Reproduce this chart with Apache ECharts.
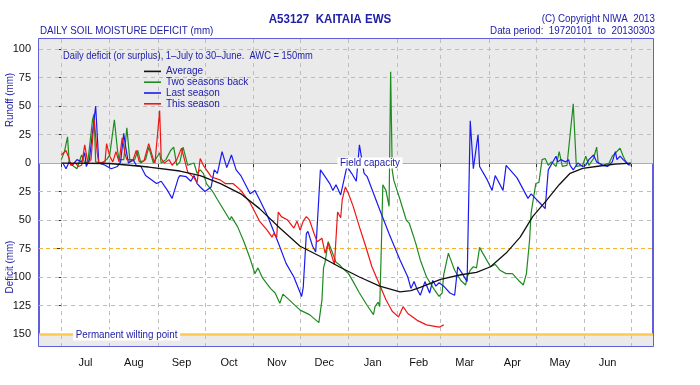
<!DOCTYPE html>
<html><head><meta charset="utf-8">
<script src="https://cdn.jsdelivr.net/npm/echarts@6/dist/echarts.min.js"></script>
<style>html,body{margin:0;padding:0;background:#fff}#c{width:700px;height:385px}</style>
</head><body><div id="c"></div>
<script>
// Month axis (day of season, starting 1 July)
const monthNames = ['Jul','Aug','Sep','Oct','Nov','Dec','Jan','Feb','Mar','Apr','May','Jun'];
const monthStarts = [0,31,62,92,123,153,184,215,243,274,304,335,365];
// Y ticks: negative = runoff (surplus), positive = deficit
const yTickValues = [-100,-75,-50,-25,0,25,50,75,100,125,150];
const gridValues = [-100,-75,-50,-25,25,50,100,125];
const fieldCapacity = 0;
const halfAWC = 75;
const wiltingPoint = 150;

// [day of season, deficit mm] (negative = surplus/runoff)
const average = [[0,0],[31,0.4],[56,3.5],[76,7],[89,11],[102,18],[115,27],[127,40],[140,57],[153,73],[166,82],[178,91],[191,100],[204,108],[217,113],[224,112],[230,109],[243,102],[256,98],[266,96],[275,91],[285,79],[294,65],[302,47],[311,32.5],[319,19],[326,9],[334,4.6],[345,2.6],[355,1],[365,0]];

const twoSeasonsBack = [[0,-3],[2,-10],[4,-23],[5,-1],[7,2],[10,5],[13,-7],[15,0],[17,-1],[20,-38],[21,-43],[22,-1],[26,0],[29,-3],[31,-7],[34,-38],[36,-11],[37,-3],[40,-3],[42,-31],[44,-1],[47,-3],[49,-11],[51,0],[54,-3],[56,-14],[59,0],[63,-9],[64,0],[67,-3],[70,-11],[72,-14],[74,2],[76,-1],[78,-14],[81,2],[85,0],[87,9],[89,6],[91,9],[93,18],[97,25],[100,32],[104,41],[108,50],[109,47],[113,56],[117,69],[121,84],[124,97],[126,92],[129,101],[134,110],[137,114],[140,123],[142,115],[146,120],[153,129],[159,133],[165,140],[167,120],[168,92],[169,87],[171,69],[173,76],[176,87],[178,89],[180,92],[184,97],[187,104],[191,114],[196,125],[200,133],[201,126],[203,122],[204,126],[205,76],[206,19],[208,24],[210,38],[211,-80],[212,6],[213,15],[217,32],[221,50],[223,53],[227,70],[230,85],[234,100],[239,111],[242,117],[244,114],[245,98],[248,79],[249,83],[252,94],[256,103],[259,107],[260,100],[262,94],[264,91],[266,92],[268,74],[270,79],[275,91],[278,89],[281,94],[285,97],[289,97],[293,103],[296,107],[298,97],[300,68],[301,44],[304,18],[306,17],[308,-3],[310,-4],[312,2],[314,-1],[317,3],[319,-10],[321,3],[324,2],[328,-52],[330,3],[334,2],[336,-6],[338,2],[341,-4],[343,-14],[344,0],[347,2],[351,0],[353,-6],[358,-13],[360,-6],[361,-3],[363,1],[365,2]];

const lastSeason = [[1,0],[3,5],[5,-1],[7,2],[10,-3],[13,-1],[15,-9],[16,3],[18,-3],[20,-27],[22,-50],[23,-25],[24,0],[28,2],[32,5],[36,3],[38,-1],[40,-26],[41,-16],[43,0],[46,-3],[48,2],[51,3],[54,11],[61,18],[64,16],[68,24],[71,31],[73,22],[75,13],[76,11],[80,12],[83,16],[85,11],[87,18],[89,21],[92,25],[96,21],[98,6],[100,9],[103,-10],[106,4],[109,-7],[112,6],[115,11],[121,27],[124,24],[127,32],[132,46],[139,70],[144,88],[149,100],[154,117],[155,109],[157,62],[158,60],[161,73],[163,78],[166,6],[169,12],[172,18],[174,24],[176,19],[179,28],[183,3],[186,9],[189,16],[191,-16],[194,9],[196,12],[204,41],[210,62],[217,85],[222,100],[224,110],[226,104],[228,111],[230,116],[233,104],[236,114],[238,103],[240,108],[242,105],[245,108],[249,114],[252,116],[254,91],[256,95],[260,104],[262,-37],[264,5],[267,-25],[268,3],[273,15],[276,24],[278,11],[283,24],[285,2],[292,13],[299,31],[301,27],[308,37],[310,40],[312,6],[313,5],[317,-6],[318,-1],[320,-3],[323,-1],[325,-3],[326,2],[328,6],[331,0],[334,3],[336,2],[338,-3],[341,-7],[343,-1],[347,2],[350,3],[353,-1],[355,-10],[356,-3],[358,-6],[360,-3],[361,-4],[363,1],[364,2]];

const thisSeason = [[0,-7],[3,-11],[5,-4],[6,2],[9,0],[11,3],[13,2],[15,-16],[17,0],[19,-3],[21,-38],[23,-9],[24,0],[28,-1],[29,-17],[31,-6],[33,-1],[35,-10],[37,-1],[39,-22],[41,-7],[42,-3],[46,-3],[48,-11],[50,-1],[53,-2],[56,-17],[59,-3],[60,0],[63,-46],[64,-4],[66,0],[69,-3],[71,2],[74,-3],[77,-13],[81,8],[85,13],[87,17],[89,-4],[91,2],[96,12],[102,15],[105,18],[110,18],[115,24],[121,35],[124,43],[127,51],[132,59],[135,65],[136,62],[138,65],[139,43],[141,47],[145,50],[149,57],[151,51],[153,59],[155,51],[157,47],[159,50],[162,62],[164,69],[167,66],[169,79],[171,70],[172,76],[175,89],[177,43],[179,48],[180,32],[182,21],[184,27],[187,38],[191,56],[195,73],[199,91],[204,107],[208,120],[212,130],[216,135],[219,126],[222,132],[228,138],[234,142],[242,144],[243,144],[245,142]];

const monthMids = monthNames.map((m, i) => (monthStarts[i] + monthStarts[i + 1]) / 2);
const txtBlue = '#2020a8';
const font = "'Liberation Sans',Arial,sans-serif";
const gridGray = '#bdbdbd';
const narrow = 0.89;

const chart = echarts.init(document.getElementById('c'), null, {renderer: 'canvas'});

const markLines = [];
monthStarts.forEach(d => markLines.push({xAxis: d, lineStyle: {color: gridGray, type: [4, 4], width: 1}}));
gridValues.forEach(v => markLines.push({yAxis: v, lineStyle: {color: gridGray, type: [4, 4], width: 1}}));
markLines.push({yAxis: halfAWC, lineStyle: {color: '#f5b335', type: [4, 3], width: 1}});
markLines.push({yAxis: fieldCapacity, lineStyle: {color: '#3fe6a6', type: 'solid', width: 1.2}});
markLines.push({yAxis: wiltingPoint, lineStyle: {color: '#ffc94d', type: 'solid', width: 2.5}});

function lineSeries(name, data, color, width, z) {
  return {name, type: 'line', data, symbol: 'none', z,
    lineStyle: {color, width}, itemStyle: {color},
    emphasis: {disabled: true}, silent: true};
}

const avgSeries = lineSeries('Average', average, '#111111', 1.3, 4);
avgSeries.markArea = {silent: true, z: 0,
  itemStyle: {color: '#eaeaea'},
  data: [[{yAxis: -108.8}, {yAxis: fieldCapacity}], [{yAxis: wiltingPoint}, {yAxis: 160.5}]]};
avgSeries.markLine = {silent: true, symbol: 'none', z: 1, label: {show: false}, animation: false, data: markLines};

function txt(x, y, text, size, align, extra) {
  return Object.assign({type: 'text', x, y, z: 10, scaleX: narrow,
    style: Object.assign({text, font: size + 'px ' + font, fill: txtBlue, align, verticalAlign: 'middle'}, (extra && extra.style) || {})},
    (extra && extra.el) || {});
}

const option = {
  animation: false,
  grid: {left: 39, right: 47, top: 39, bottom: 39, show: true, borderColor: '#2b2bd0', borderWidth: 1.5},
  xAxis: {type: 'value', min: -14.3, max: 379.1,
    axisLine: {show: false}, splitLine: {show: false},
    axisTick: {show: true, customValues: monthStarts, length: 6, lineStyle: {color: '#333'}},
    axisLabel: {customValues: monthMids, margin: 11, fontSize: 11, color: '#111', fontFamily: font,
      formatter: v => { let best = 0; monthMids.forEach((m, i) => { if (Math.abs(m - v) < Math.abs(monthMids[best] - v)) best = i; }); return monthNames[best]; }}},
  yAxis: {type: 'value', inverse: true, min: -108.8, max: 160.5,
    axisLine: {show: false}, splitLine: {show: false},
    axisTick: {show: true, customValues: yTickValues, length: 5, lineStyle: {color: '#333'}},
    axisLabel: {customValues: yTickValues, margin: 8, fontSize: 11, color: '#111', fontFamily: font,
      formatter: v => String(Math.abs(v))}},
  legend: {orient: 'vertical', left: 144, top: 66, padding: 0, icon: 'rect', itemWidth: 17, itemHeight: 1.6, itemGap: 0,
    selectedMode: false,
    textStyle: {fontSize: 10, color: txtBlue, fontFamily: 'Liberation Sans', lineHeight: 10.8},
    data: ['Average', 'Two seasons back', 'Last season', 'This season']},
  graphic: [
    txt(330, 19, 'A53127  KAITAIA EWS', 13, 'center', {style: {font: 'bold 13px ' + font}}),
    txt(40, 31, 'DAILY SOIL MOISTURE DEFICIT (mm)', 11, 'left'),
    txt(655, 19, '(C) Copyright NIWA  2013', 11, 'right'),
    txt(655, 31, 'Data period:  19720101  to  20130303', 11, 'right'),
    {type: 'text', x: 10, y: 100, rotation: Math.PI / 2, z: 10, scaleX: narrow, style: {text: 'Runoff (mm)', font: '11px ' + font, fill: txtBlue, align: 'center', verticalAlign: 'middle'}},
    {type: 'text', x: 10, y: 267, rotation: Math.PI / 2, z: 10, scaleX: narrow, style: {text: 'Deficit (mm)', font: '11px ' + font, fill: txtBlue, align: 'center', verticalAlign: 'middle'}},
    txt(63, 56, 'Daily deficit (or surplus), 1\u2013July to 30\u2013June.  AWC = 150mm', 10.5, 'left'),
    txt(370, 163, 'Field capacity', 11, 'center', {style: {backgroundColor: '#fff', padding: [0, 3]}}),
    txt(73, 335, 'Permanent wilting point', 11, 'left', {style: {backgroundColor: '#fff', padding: [0, 3]}})
  ],
  series: [
    avgSeries,
    lineSeries('Two seasons back', twoSeasonsBack, '#1f8a1f', 1.2, 2),
    lineSeries('Last season', lastSeason, '#1a1af0', 1.2, 2),
    lineSeries('This season', thisSeason, '#f01414', 1.2, 2)
  ]
};
chart.setOption(option);
</script>
</body></html>
